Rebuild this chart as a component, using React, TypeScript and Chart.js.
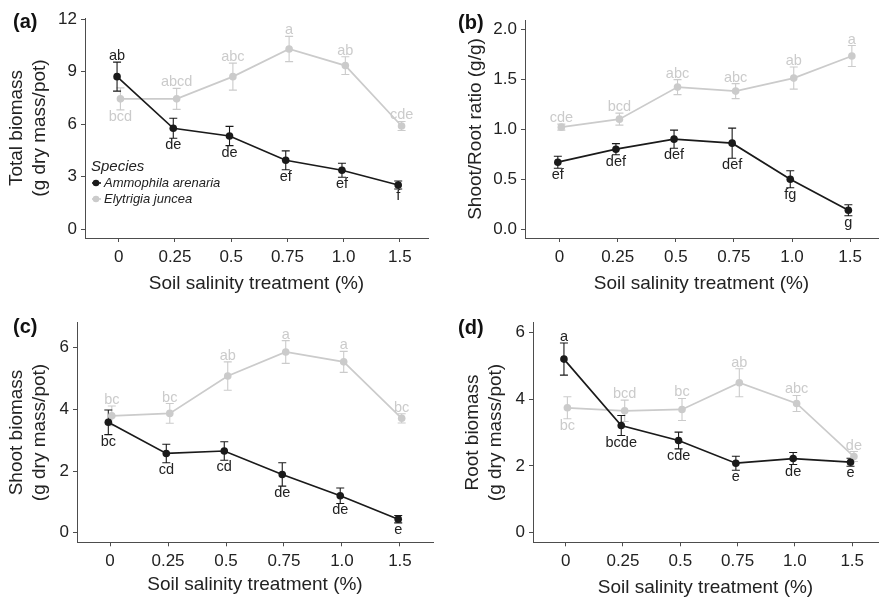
import React, { useEffect, useRef } from "react";
import { Chart, registerables } from "chart.js";

Chart.register(...registerables);

const FONT = "'Liberation Sans', Arial, sans-serif";
const BLACK = "#1a1a1a";
const GREY = "#cbcbcb";

const categories = ["0", "0.25", "0.5", "0.75", "1.0", "1.5"];
const speciesNames = ["Ammophila arenaria", "Elytrigia juncea"];
const xTitle = "Soil salinity treatment (%)";

// (a) Total biomass
const totalAmmophila = [8.72, 5.77, 5.33, 3.94, 3.37, 2.53];
const totalAmmophilaSE = [0.83, 0.57, 0.55, 0.54, 0.4, 0.23];
const totalElytrigia = [7.45, 7.45, 8.72, 10.3, 9.35, 5.9];
const totalElytrigiaSE = [0.63, 0.6, 0.77, 0.72, 0.51, 0.26];
const totalAmmophilaLetters = ["ab", "de", "de", "ef", "ef", "f"];
const totalAmmophilaSide = ["up", "down", "down", "down", "down", "down"];
const totalElytrigiaLetters = ["bcd", "abcd", "abc", "a", "ab", "cde"];
const totalElytrigiaSide = ["down", "up", "up", "up", "up", "up"];
const totalTicks = [0, 3, 6, 9, 12];
const totalTickLabels = ["0", "3", "6", "9", "12"];

// (b) Shoot/Root ratio
const ratioAmmophila = [0.67, 0.8, 0.9, 0.86, 0.5, 0.19];
const ratioAmmophilaSE = [0.06, 0.055, 0.09, 0.15, 0.085, 0.055];
const ratioElytrigia = [1.02, 1.1, 1.42, 1.38, 1.51, 1.73];
const ratioElytrigiaSE = [0.03, 0.06, 0.075, 0.075, 0.11, 0.105];
const ratioAmmophilaLetters = ["ef", "def", "def", "def", "fg", "g"];
const ratioAmmophilaSide = ["down", "down", "down", "down", "down", "down"];
const ratioElytrigiaLetters = ["cde", "bcd", "abc", "abc", "ab", "a"];
const ratioElytrigiaSide = ["up", "up", "up", "up", "up", "up"];
const ratioTicks = [0, 0.5, 1, 1.5, 2];
const ratioTickLabels = ["0.0", "0.5", "1.0", "1.5", "2.0"];

// (c) Shoot biomass
const shootAmmophila = [3.58, 2.57, 2.65, 1.89, 1.2, 0.44];
const shootAmmophilaSE = [0.4, 0.3, 0.3, 0.38, 0.25, 0.12];
const shootElytrigia = [3.79, 3.87, 5.08, 5.86, 5.54, 3.71];
const shootElytrigiaSE = [0.32, 0.32, 0.46, 0.37, 0.34, 0.15];
const shootAmmophilaLetters = ["bc", "cd", "cd", "de", "de", "e"];
const shootAmmophilaSide = ["down", "down", "down", "down", "down", "down"];
const shootElytrigiaLetters = ["bc", "bc", "ab", "a", "a", "bc"];
const shootElytrigiaSide = ["up", "up", "up", "up", "up", "up"];
const shootTicks = [0, 2, 4, 6];
const shootTickLabels = ["0", "2", "4", "6"];

// (d) Root biomass
const rootAmmophila = [5.2, 3.21, 2.76, 2.08, 2.22, 2.11];
const rootAmmophilaSE = [0.48, 0.3, 0.25, 0.21, 0.18, 0.12];
const rootElytrigia = [3.74, 3.65, 3.69, 4.49, 3.87, 2.28];
const rootElytrigiaSE = [0.33, 0.32, 0.33, 0.42, 0.24, 0.15];
const rootAmmophilaLetters = ["a", "bcde", "cde", "e", "de", "e"];
const rootAmmophilaSide = ["up", "down", "down", "down", "down", "down"];
const rootElytrigiaLetters = ["bc", "bcd", "bc", "ab", "abc", "de"];
const rootElytrigiaSide = ["down", "up", "up", "up", "up", "up"];
const rootTicks = [0, 2, 4, 6];
const rootTickLabels = ["0", "2", "4", "6"];

type Panel = {
  label: string;
  left: number;
  top: number;
  width: number;
  height: number;
  area: { l: number; r: number; t: number; b: number };
  xRange: [number, number];
  yRange: [number, number];
  yTicks: number[];
  yTickLabels: string[];
  yTitle: string[];
  yTitlePad: number;
  xTitlePad: number;
  labelPos: [number, number];
  series: {
    name: string;
    color: string;
    values: number[];
    se: number[];
    letters: string[];
    side: string[];
    dodge: number;
  }[];
  legend: boolean;
};

const DODGE = 0.03;

function mkSeries(a: number[], ase: number[], al: string[], as: string[], e: number[], ese: number[], el: string[], es: string[]) {
  return [
    { name: speciesNames[0], color: BLACK, values: a, se: ase, letters: al, side: as, dodge: -DODGE },
    { name: speciesNames[1], color: GREY, values: e, se: ese, letters: el, side: es, dodge: DODGE },
  ];
}

const panels: Panel[] = [
  {
    label: "(a)", left: 0, top: 0, width: 441, height: 298,
    area: { l: 85, r: 428, t: 18, b: 238 },
    xRange: [-0.6, 5.5], yRange: [-0.5, 12.07],
    yTicks: totalTicks, yTickLabels: totalTickLabels,
    yTitle: ["Total biomass", "(g dry mass/pot)"], yTitlePad: 5.3, xTitlePad: 4.5,
    labelPos: [13, 22.5],
    series: mkSeries(totalAmmophila, totalAmmophilaSE, totalAmmophilaLetters, totalAmmophilaSide,
      totalElytrigia, totalElytrigiaSE, totalElytrigiaLetters, totalElytrigiaSide),
    legend: true,
  },
  {
    label: "(b)", left: 441, top: 0, width: 441, height: 298,
    area: { l: 84, r: 441, t: 20, b: 238 },
    xRange: [-0.595, 5.48], yRange: [-0.087, 2.09],
    yTicks: ratioTicks, yTickLabels: ratioTickLabels,
    yTitle: ["Shoot/Root ratio (g/g)"], yTitlePad: 23.6, xTitlePad: 4.5,
    labelPos: [17, 23],
    series: mkSeries(ratioAmmophila, ratioAmmophilaSE, ratioAmmophilaLetters, ratioAmmophilaSide,
      ratioElytrigia, ratioElytrigiaSE, ratioElytrigiaLetters, ratioElytrigiaSide),
    legend: false,
  },
  {
    label: "(c)", left: 0, top: 298, width: 441, height: 299,
    area: { l: 77, r: 433, t: 24.7, b: 244.3 },
    xRange: [-0.57, 5.57], yRange: [-0.31, 6.81],
    yTicks: shootTicks, yTickLabels: shootTickLabels,
    yTitle: ["Shoot biomass", "(g dry mass/pot)"], yTitlePad: 5.6, xTitlePad: 2.5,
    labelPos: [13, 29.5],
    series: mkSeries(shootAmmophila, shootAmmophilaSE, shootAmmophilaLetters, shootAmmophilaSide,
      shootElytrigia, shootElytrigiaSE, shootElytrigiaLetters, shootElytrigiaSide),
    legend: false,
  },
  {
    label: "(d)", left: 441, top: 298, width: 441, height: 299,
    area: { l: 92, r: 441, t: 24.7, b: 244.3 },
    xRange: [-0.57, 5.45], yRange: [-0.29, 6.29],
    yTicks: rootTicks, yTickLabels: rootTickLabels,
    yTitle: ["Root biomass", "(g dry mass/pot)"], yTitlePad: 20.6, xTitlePad: 0,
    labelPos: [17, 30],
    series: mkSeries(rootAmmophila, rootAmmophilaSE, rootAmmophilaLetters, rootAmmophilaSide,
      rootElytrigia, rootElytrigiaSE, rootElytrigiaLetters, rootElytrigiaSide),
    legend: false,
  },
];

function makePlugin(p: Panel) {
  return {
    id: "panelExtras",
    beforeDatasetsDraw(chart: any) {
      const ctx = chart.ctx;
      const ys = chart.scales.y;
      ctx.save();
      for (let i = p.series.length - 1; i >= 0; i--) {
        const s = p.series[i];
        const meta = chart.getDatasetMeta(i);
        ctx.strokeStyle = s.color;
        ctx.lineWidth = 1.1;
        s.values.forEach((v, j) => {
          const pt = meta.data[j];
          const x = pt.x;
          const yh = ys.getPixelForValue(v + s.se[j]);
          const yl = ys.getPixelForValue(v - s.se[j]);
          ctx.beginPath();
          ctx.moveTo(x, yh);
          ctx.lineTo(x, yl);
          ctx.moveTo(x - 4, yh);
          ctx.lineTo(x + 4, yh);
          ctx.moveTo(x - 4, yl);
          ctx.lineTo(x + 4, yl);
          ctx.stroke();
        });
      }
      ctx.restore();
    },
    afterDatasetsDraw(chart: any) {
      const ctx = chart.ctx;
      const ys = chart.scales.y;
      ctx.save();
      ctx.font = `14.5px ${FONT}`;
      ctx.textAlign = "center";
      ctx.textBaseline = "alphabetic";
      p.series.forEach((s, i) => {
        const meta = chart.getDatasetMeta(i);
        ctx.fillStyle = s.color === BLACK ? "#222222" : GREY;
        s.values.forEach((v, j) => {
          const x = meta.data[j].x;
          if (s.side[j] === "up") {
            const y = ys.getPixelForValue(v + s.se[j]) - 2;
            ctx.fillText(s.letters[j], x, y);
          } else {
            const y = ys.getPixelForValue(v - s.se[j]) + 11;
            ctx.fillText(s.letters[j], x, y);
          }
        });
      });
      ctx.restore();
    },
    afterDraw(chart: any) {
      const ctx = chart.ctx;
      ctx.save();
      ctx.fillStyle = "#111111";
      ctx.font = `bold 20px ${FONT}`;
      ctx.textAlign = "left";
      ctx.textBaseline = "middle";
      ctx.fillText(p.label, p.labelPos[0], p.labelPos[1]);
      if (p.legend) {
        const a = chart.chartArea;
        const lx = a.left + 6;
        ctx.fillStyle = "#222222";
        ctx.font = `italic 15px ${FONT}`;
        ctx.fillText("Species", lx, a.top + 149);
        p.series.forEach((s, i) => {
          const cy = a.top + 165 + i * 16;
          ctx.strokeStyle = s.color;
          ctx.lineWidth = 1.6;
          ctx.beginPath();
          ctx.moveTo(lx + 1, cy);
          ctx.lineTo(lx + 10, cy);
          ctx.stroke();
          ctx.fillStyle = s.color;
          ctx.beginPath();
          ctx.arc(lx + 5, cy, 3.3, 0, Math.PI * 2);
          ctx.fill();
          ctx.fillStyle = "#222222";
          ctx.font = `italic 13px ${FONT}`;
          ctx.fillText(s.name, lx + 13, cy);
        });
      }
      ctx.restore();
    },
  };
}

function PanelChart({ p }: { p: Panel }) {
  const ref = useRef<HTMLCanvasElement | null>(null);
  useEffect(() => {
    if (!ref.current) return;
    const axisColor = "#4d4d4d";
    const tickFont = { family: FONT, size: 17 };
    const chart = new Chart(ref.current, {
      type: "line",
      data: {
        datasets: p.series.map((s) => ({
          label: s.name,
          data: s.values.map((v, j) => ({ x: j + s.dodge, y: v })),
          borderColor: s.color,
          backgroundColor: s.color,
          borderWidth: 1.7,
          pointRadius: 3.8,
          pointBorderWidth: 0,
          pointBackgroundColor: s.color,
          tension: 0,
          clip: false as any,
        })),
      },
      options: {
        responsive: false,
        animation: false,
        events: [],
        layout: {
          padding: { left: 0, top: p.area.t, right: p.width - p.area.r, bottom: 0 },
        },
        plugins: {
          legend: { display: false },
          tooltip: { enabled: false },
        },
        scales: {
          x: {
            type: "linear",
            min: p.xRange[0],
            max: p.xRange[1],
            afterBuildTicks: (scale: any) => {
              scale.ticks = categories.map((_, i) => ({ value: i }));
            },
            afterFit: (scale: any) => {
              scale.height = p.height - p.area.b;
            },
            ticks: {
              autoSkip: false,
              maxRotation: 0,
              padding: 4.8,
              color: "#222222",
              font: tickFont,
              callback: (v: any) => categories[Math.round(Number(v))] ?? "",
            },
            grid: { drawOnChartArea: false, drawTicks: true, tickLength: 4, color: axisColor },
            border: { display: true, color: axisColor, width: 1 },
            title: {
              display: true,
              text: xTitle,
              color: "#222222",
              font: { family: FONT, size: 19, lineHeight: 1.0 },
              padding: { top: 0, bottom: p.xTitlePad },
            },
          },
          y: {
            type: "linear",
            min: p.yRange[0],
            max: p.yRange[1],
            afterBuildTicks: (scale: any) => {
              scale.ticks = p.yTicks.map((v) => ({ value: v }));
            },
            afterFit: (scale: any) => {
              scale.width = p.area.l;
            },
            ticks: {
              autoSkip: false,
              padding: 4,
              color: "#222222",
              font: tickFont,
              callback: (v: any) => {
                const k = p.yTicks.findIndex((t) => Math.abs(t - Number(v)) < 1e-9);
                return k >= 0 ? p.yTickLabels[k] : "";
              },
            },
            grid: { drawOnChartArea: false, drawTicks: true, tickLength: 4, color: axisColor },
            border: { display: true, color: axisColor, width: 1 },
            title: {
              display: true,
              text: p.yTitle,
              color: "#222222",
              font: { family: FONT, size: 19, lineHeight: 1.2 },
              padding: { top: p.yTitlePad, bottom: 0 },
            },
          },
        },
      } as any,
      plugins: [makePlugin(p)],
    });
    return () => chart.destroy();
  }, [p]);
  return (
    <canvas
      ref={ref}
      width={p.width}
      height={p.height}
      style={{ position: "absolute", left: p.left, top: p.top, width: p.width, height: p.height }}
    />
  );
}

export default function App() {
  return (
    <div style={{ position: "fixed", left: 0, top: 0, width: 882, height: 597, background: "#ffffff", overflow: "hidden" }}>
      {panels.map((p) => (
        <PanelChart key={p.label} p={p} />
      ))}
    </div>
  );
}
